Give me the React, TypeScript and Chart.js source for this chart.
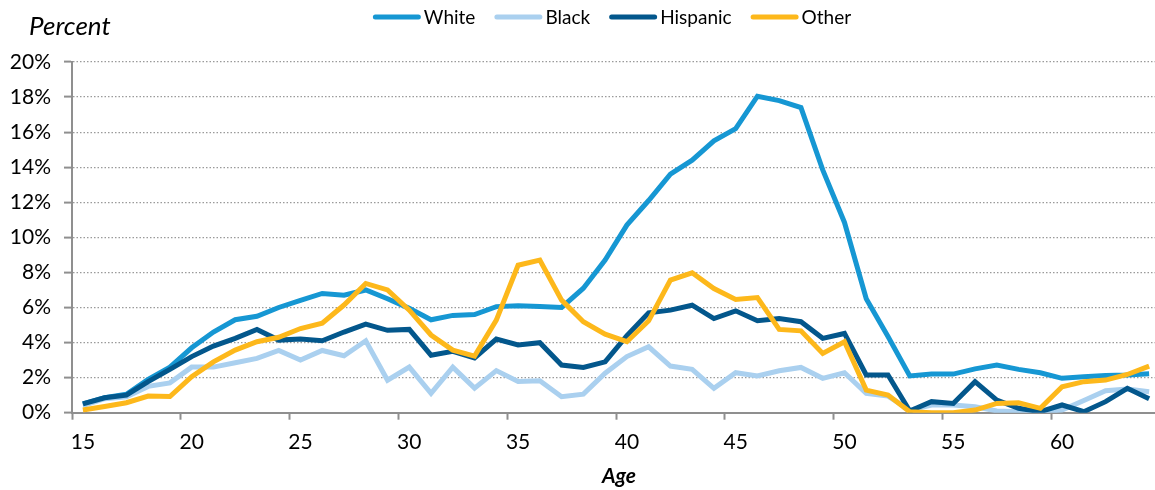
import React, { useEffect, useRef } from 'react';
import { Chart, registerables } from 'chart.js';

Chart.register(...registerables);

// ---------- data ----------
const ages: number[] = [
  15, 16, 17, 18, 19, 20, 21, 22, 23, 24,
  25, 26, 27, 28, 29, 30, 31, 32, 33, 34,
  35, 36, 37, 38, 39, 40, 41, 42, 43, 44,
  45, 46, 47, 48, 49, 50, 51, 52, 53, 54,
  55, 56, 57, 58, 59, 60, 61, 62, 63, 64,
];

const white: number[] = [
  0.5, 0.85, 1.05, 1.9, 2.6, 3.7, 4.6, 5.3, 5.5, 6.0,
  6.4, 6.8, 6.7, 7.0, 6.5, 5.95, 5.3, 5.55, 5.6, 6.05,
  6.1, 6.05, 6.0, 7.1, 8.7, 10.7, 12.1, 13.6, 14.4, 15.5,
  16.2, 18.05, 17.8, 17.4, 13.85, 10.85, 6.5, 4.35, 2.1, 2.2,
  2.2, 2.5, 2.72, 2.47, 2.28, 1.96, 2.05, 2.12, 2.15, 2.22,
];

const black: number[] = [
  0.4, 0.8, 0.9, 1.5, 1.7, 2.6, 2.6, 2.85, 3.1, 3.55,
  3.0, 3.55, 3.25, 4.1, 1.85, 2.6, 1.1, 2.6, 1.4, 2.4,
  1.78, 1.82, 0.91, 1.06, 2.25, 3.2, 3.76, 2.66, 2.47, 1.39,
  2.28, 2.09, 2.39, 2.58, 1.96, 2.28, 1.1, 0.95, 0.15, 0.44,
  0.44, 0.34, 0.1, 0.05, 0.05, 0.15, 0.7, 1.25, 1.35, 1.2,
];

const hispanic: number[] = [
  0.5, 0.85, 1.0, 1.77, 2.47, 3.2, 3.8, 4.24, 4.75, 4.14,
  4.2, 4.1, 4.6, 5.05, 4.7, 4.75, 3.28, 3.5, 3.12, 4.2,
  3.86, 3.99, 2.72, 2.58, 2.9, 4.4, 5.7, 5.85, 6.13, 5.37,
  5.81, 5.24, 5.37, 5.19, 4.24, 4.52, 2.15, 2.15, 0.1, 0.63,
  0.53, 1.77, 0.72, 0.25, 0.06, 0.44, 0.06, 0.63, 1.39, 0.8,
];

const other: number[] = [
  0.15, 0.35, 0.57, 0.95, 0.92, 2.05, 2.9, 3.57, 4.05, 4.3,
  4.8, 5.1, 6.14, 7.37, 7.0, 5.85, 4.43, 3.57, 3.23, 5.28,
  8.41, 8.7, 6.42, 5.19, 4.48, 4.05, 5.24, 7.56, 7.98, 7.08,
  6.46, 6.57, 4.75, 4.67, 3.38, 4.05, 1.29, 1.01, 0.05, 0.0,
  0.0, 0.15, 0.53, 0.57, 0.25, 1.48, 1.77, 1.86, 2.18, 2.66,
];

const seriesNames: string[] = ['White', 'Black', 'Hispanic', 'Other'];
const seriesColors: string[] = ['#1697D3', '#AAD0EF', '#03578C', '#FDB81B'];
const yAxisTitle = 'Percent';
const xAxisTitle = 'Age';
const yMin = 0;
const yMax = 20;
const yStep = 2;
const xLabelEvery = 5;

const FONT = 'Lato, "Open Sans", sans-serif';
const AXIS_GRAY = '#8f8f8f';

const overlayPlugin = {
  id: 'overlayText',
  afterDraw(chart: any) {
    const { ctx, chartArea } = chart;
    ctx.save();
    ctx.fillStyle = '#000';

    // y title
    ctx.font = `italic 26px ${FONT}`;
    ctx.textAlign = 'left';
    ctx.textBaseline = 'alphabetic';
    ctx.fillText(yAxisTitle, 29, 35);

    // x title
    ctx.font = `italic bold 21px ${FONT}`;
    ctx.textAlign = 'center';
    ctx.fillText(xAxisTitle, (chartArea.left + chartArea.right) / 2 + 3, 483);

    // legend
    ctx.font = `19px ${FONT}`;
    const lineLen = 48;
    const gapText = 3;
    const gapItem = 19;
    const ds = chart.data.datasets;
    const widths = ds.map((d: any) => ctx.measureText(d.label).width);
    let total = 0;
    widths.forEach((w: number) => (total += lineLen + gapText + w));
    total += gapItem * (ds.length - 1);
    let x = (chartArea.left + chartArea.right) / 2 - 4 - total / 2;
    const y = 17;
    ds.forEach((d: any, i: number) => {
      ctx.strokeStyle = d.borderColor;
      ctx.lineWidth = 5;
      ctx.lineCap = 'round';
      ctx.beginPath();
      ctx.moveTo(x + 2.5, y);
      ctx.lineTo(x + lineLen - 2.5, y);
      ctx.stroke();
      x += lineLen + gapText;
      ctx.textAlign = 'left';
      ctx.textBaseline = 'middle';
      ctx.fillText(d.label, x, y + 1);
      x += widths[i] + gapItem;
    });
    ctx.restore();
  },
};

export default function App() {
  const canvasRef = useRef<HTMLCanvasElement | null>(null);

  useEffect(() => {
    const canvas = canvasRef.current;
    if (!canvas) return;
    const seriesData = [white, black, hispanic, other];
    const orders = [4, 3, 2, 1];
    const chart = new Chart(canvas, {
      type: 'line',
      data: {
        labels: ages.map(String),
        datasets: seriesNames.map((name, i) => ({
          label: name,
          data: seriesData[i],
          borderColor: seriesColors[i],
          backgroundColor: seriesColors[i],
          borderWidth: 5,
          pointRadius: 0,
          pointHoverRadius: 0,
          tension: 0,
          fill: false,
          order: orders[i],
        })),
      },
      options: {
        animation: false,
        responsive: false,
        maintainAspectRatio: false,
        devicePixelRatio: 1,
        layout: { padding: { top: 62, right: 0, bottom: 0, left: 0 } },
        plugins: {
          legend: { display: false },
          tooltip: { enabled: false },
          title: { display: false },
        },
        scales: {
          x: {
            type: 'category',
            offset: true,
            afterFit: (scale: any) => {
              scale.height = 77.3;
            },
            grid: {
              offset: true,
              drawOnChartArea: false,
              drawTicks: true,
              tickLength: 7,
              tickWidth: 2,
              tickColor: (c: any) =>
                c.index !== undefined && c.index % xLabelEvery === 0 ? AXIS_GRAY : 'rgba(0,0,0,0)',
            },
            border: { display: true, color: AXIS_GRAY, width: 2 },
            ticks: {
              autoSkip: false,
              maxRotation: 0,
              minRotation: 0,
              padding: 10,
              color: '#000',
              font: { family: FONT, size: 21 },
              callback: (_v: any, index: number) =>
                (ages[index] - ages[0]) % xLabelEvery === 0 ? String(ages[index]) : '',
            },
          },
          y: {
            min: yMin,
            max: yMax,
            afterFit: (scale: any) => {
              scale.width = 72;
            },
            grid: {
              color: '#9a9a9a',
              lineWidth: 1.2,
              drawTicks: true,
              tickLength: 8,
              tickWidth: 2,
              tickColor: AXIS_GRAY,
            },
            border: { display: true, color: AXIS_GRAY, width: 2, dash: [1.5, 2] },
            ticks: {
              stepSize: yStep,
              padding: 13,
              color: '#000',
              font: { family: FONT, size: 21 },
              callback: (v: any) => `${v}%`,
            },
          },
        },
      },
      plugins: [overlayPlugin],
    });
    return () => chart.destroy();
  }, []);

  return (
    <div
      style={{
        position: 'absolute',
        left: 0,
        top: 0,
        width: 1155,
        height: 490,
        overflow: 'hidden',
        background: '#fff',
      }}
    >
      <canvas ref={canvasRef} width={1160} height={490} style={{ display: 'block', width: 1160, height: 490 }} />
    </div>
  );
}
